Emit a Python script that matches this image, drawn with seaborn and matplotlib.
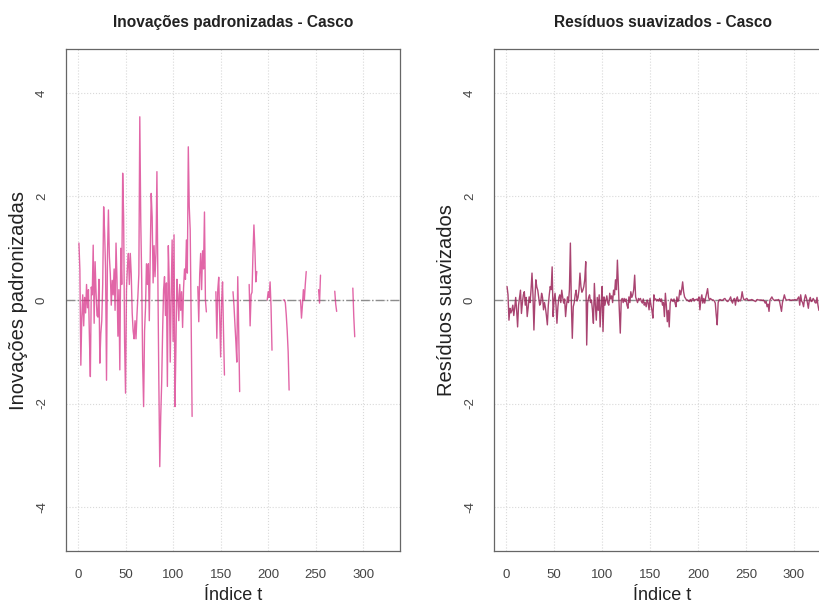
import matplotlib
matplotlib.use("Agg")
import matplotlib.pyplot as plt
import seaborn as sns
import pandas as pd
import numpy as np

nan = np.nan

# standardized innovations (NaN where the series is missing)
innov = [
    1.10, 0.58, -1.26, -0.33, 0.10, -0.50, 0.05, -0.25, 0.30, -0.15,
    0.20, -0.70, -1.48, 0.25, 0.10, 1.06, -0.45, 0.74, 0.15, -0.30,
    -0.33, 0.40, -1.22, -0.65, -0.40, 0.30, 1.80, 1.30, 0.60, -1.55,
    0.85, 1.74, 0.84, 0.50, -0.10, 0.38, 0.10, 0.60, -0.20, 1.10,
    0.40, -0.70, 0.20, -1.35, 1.00, 0.30, 2.45, 1.60, -0.80, -1.80,
    0.20, 0.64, 0.90, 0.30, 0.90, 0.50, -0.25, -0.60, -0.75, -0.40,
    -0.75, -0.30, 0.08, 0.50, 3.54, 1.55, 0.40, -1.20, -2.06, -0.60,
    -0.15, 0.70, 0.30, 0.70, -0.40, 0.90, 2.06, 1.60, 0.33, 1.05,
    0.45, 0.90, 2.48, 0.40, -1.55, -3.22, -2.25, -1.60, -0.60, 0.20,
    0.45, -0.30, 0.33, -1.67, 1.05, 0.30, -1.20, 0.10, 1.16, -0.80,
    1.26, -2.06, -0.90, 0.40, 0.10, -0.40, 0.30, -0.20, 0.16, -0.53,
    0.22, 0.60, 0.40, 1.16, 0.52, 2.96, 1.80, 1.35, -0.40, -2.25,
    nan, nan, nan, nan, nan, 0.26, -0.42, 0.50, 0.90, 0.20,
    0.95, 0.60, 1.70, 0.00, -0.23, nan, nan, nan, nan, nan,
    nan, nan, nan, nan, 0.16, -0.74, 0.20, 0.44, -0.30, -1.10,
    -0.05, 0.35, -0.60, -1.45, nan, nan, nan, nan, nan, nan,
    nan, nan, 0.16, -0.10, -0.46, -0.80, -1.20, 0.45, -0.60, -1.77,
    nan, nan, nan, nan, nan, nan, nan, nan, nan, 0.30,
    -0.50, 0.10, 0.15, 0.90, 1.45, 1.00, 0.35, 0.55, nan, nan,
    nan, nan, nan, nan, nan, nan, nan, nan, 0.00, 0.16,
    0.05, 0.35, -0.13, -0.97, nan, nan, nan, nan, nan, nan,
    nan, nan, nan, nan, nan, 0.00, 0.00, -0.05, -0.29, -0.60,
    -1.00, -1.74, nan, nan, nan, nan, nan, nan, nan, nan,
    nan, nan, nan, 0.00, -0.35, -0.10, 0.20, 0.00, 0.30, 0.55,
    nan, nan, nan, nan, nan, nan, nan, nan, nan, nan,
    nan, nan, 0.20, -0.06, 0.48, nan, nan, nan, nan, nan,
    nan, nan, nan, nan, nan, nan, nan, nan, nan, 0.17,
    -0.08, -0.22, nan, nan, nan, nan, nan, nan, nan, nan,
    nan, nan, nan, nan, nan, nan, nan, nan, 0.23, -0.32,
    -0.71, nan, nan, nan, nan, nan, nan, nan, nan, nan,
    nan, nan, nan, nan, nan, nan, nan, nan, nan, nan,
    nan, nan, nan, nan, nan, nan, nan, nan, nan, nan,
    nan, nan, nan, nan, nan, nan,
]

# smoothed residuals
resid = [
    0.26, 0.10, -0.39, -0.16, -0.25, -0.20, -0.10, -0.30, -0.15, 0.05,
    -0.20, -0.52, -0.10, 0.05, 0.19, -0.26, -0.05, 0.10, 0.16, -0.10,
    0.05, -0.32, -0.15, 0.06, -0.05, 0.20, 0.52, 0.10, -0.58, 0.00,
    0.39, 0.25, 0.19, 0.05, -0.10, -0.06, 0.13, 0.05, -0.19, -0.05,
    -0.15, -0.30, -0.48, -0.10, 0.10, 0.26, 0.20, 0.64, -0.32, 0.00,
    0.13, -0.10, -0.45, -0.13, 0.05, 0.10, -0.05, 0.19, 0.05, -0.06,
    0.02, -0.32, -0.10, 0.06, -0.05, 0.20, 1.10, -0.06, -0.74, -0.13,
    -0.05, 0.10, 0.19, -0.02, 0.05, 0.20, 0.52, 0.26, 0.15, 0.19,
    0.26, 0.40, 0.74, -0.87, -0.06, 0.05, 0.10, -0.05, 0.00, -0.20,
    -0.45, 0.32, -0.10, -0.39, 0.05, -0.20, 0.10, -0.52, -0.10, 0.26,
    -0.61, 0.06, -0.10, 0.00, 0.08, -0.06, -0.10, 0.13, 0.02, 0.08,
    -0.05, 0.19, 0.10, 0.39, 0.20, 0.77, 0.26, -0.20, -0.64, 0.00,
    0.03, -0.05, 0.03, -0.03, 0.02, -0.10, -0.16, 0.06, -0.05, 0.16,
    0.05, 0.10, 0.20, 0.48, 0.06, 0.00, -0.05, 0.03, 0.00, 0.03,
    -0.03, -0.06, 0.02, -0.10, -0.05, -0.13, 0.00, -0.05, -0.19, 0.03,
    -0.10, -0.20, -0.35, 0.10, 0.00, 0.02, -0.02, 0.01, -0.02, 0.03,
    -0.03, 0.02, -0.10, -0.05, -0.32, 0.13, -0.10, -0.42, -0.20, -0.52,
    -0.06, 0.02, 0.00, -0.03, 0.02, -0.05, -0.13, 0.06, -0.03, 0.02,
    0.19, 0.10, 0.20, 0.35, 0.16, 0.06, 0.03, 0.00, 0.00, -0.02,
    -0.03, 0.01, -0.03, 0.02, 0.03, -0.02, 0.01, 0.00, 0.02, -0.01,
    0.06, -0.19, 0.02, 0.10, -0.06, 0.03, -0.06, 0.05, 0.13, 0.22,
    0.05, 0.00, 0.03, 0.01, 0.00, 0.00, -0.02, -0.06, -0.29, -0.48,
    -0.05, 0.00, 0.01, 0.00, -0.01, 0.00, 0.02, 0.03, 0.00, -0.02,
    -0.03, -0.01, 0.02, 0.06, -0.02, -0.06, 0.01, 0.03, -0.10, 0.02,
    0.06, -0.03, 0.00, -0.02, 0.03, 0.16, 0.05, 0.00, 0.01, 0.02,
    0.03, 0.00, -0.01, 0.00, 0.00, 0.01, 0.00, -0.01, -0.02, -0.03,
    0.00, 0.01, 0.00, 0.00, 0.00, 0.00, -0.01, 0.00, -0.02, -0.06,
    -0.03, -0.13, -0.08, -0.22, 0.00, 0.03, 0.06, 0.02, 0.00, -0.01,
    0.00, 0.00, 0.00, 0.01, -0.03, -0.13, -0.22, -0.05, 0.02, 0.10,
    0.03, 0.00, 0.00, 0.00, 0.01, 0.00, -0.01, 0.00, 0.00, 0.00,
    0.01, 0.00, 0.00, 0.03, 0.06, -0.10, 0.10, -0.02, -0.05, -0.13,
    0.02, 0.10, 0.04, -0.05, -0.16, 0.00, 0.05, -0.03, -0.02, 0.03,
    0.00, -0.05, -0.06, 0.05, -0.10, -0.20,
]

t = np.arange(1, len(innov) + 1)
x_ticks = [0, 50, 100, 150, 200, 250, 300]
y_ticks = [-4, -2, 0, 2, 4]

sns.set_style("white")
plt.rcParams["font.family"] = ["Liberation Sans", "DejaVu Sans"]
plt.rcParams["axes.unicode_minus"] = False


def series_frame(values):
    df = pd.DataFrame({"t": t, "v": values})
    # break the line wherever a value is missing
    df["seg"] = df["v"].isna().cumsum()
    return df.dropna()


def style_panel(ax, title, ylabel):
    ax.set_xlim(-12.6, 338.6)
    ax.set_ylim(-4.85, 4.85)
    ax.set_xticks(x_ticks)
    ax.set_yticks(y_ticks)
    for v in x_ticks:
        ax.axvline(v, color="#d9d9d9", lw=0.8, ls=":", zorder=0)
    for v in y_ticks:
        ax.axhline(v, color="#d9d9d9", lw=0.8, ls=":", zorder=0)
    ax.axhline(0, color="#8c8c8c", lw=1.0, ls="-.", zorder=1)
    ax.set_title(title, fontsize=11.2, fontweight="bold", pad=16, color="#222222")
    ax.set_xlabel("Índice t", fontsize=13, labelpad=4, color="#222222")
    ax.set_ylabel(ylabel, fontsize=14.5, labelpad=6, color="#222222")
    ax.tick_params(axis="both", direction="out", length=5, width=0.8,
                   colors="#555555", labelcolor="#444444", labelsize=9.5, pad=8)
    for lab in ax.get_yticklabels():
        lab.set_rotation(90)
        lab.set_va("center")
    for sp in ax.spines.values():
        sp.set_color("#666666")
        sp.set_linewidth(0.9)


fig = plt.figure(figsize=(8.19, 6.07), dpi=100)
ax1 = fig.add_axes([66 / 819, 1 - 551 / 607, 334 / 819, 502 / 607])
ax2 = fig.add_axes([494 / 819, 1 - 551 / 607, 337 / 819, 502 / 607])

sns.lineplot(data=series_frame(innov), x="t", y="v", units="seg", estimator=None,
             color="#d8338a", alpha=0.75, lw=1.0, ax=ax1)
sns.lineplot(data=series_frame(resid), x="t", y="v", units="seg", estimator=None,
             color="#9a2358", alpha=0.85, lw=1.0, ax=ax2)

style_panel(ax1, "Inovações padronizadas - Casco", "Inovações padronizadas")
style_panel(ax2, "Resíduos suavizados - Casco", "Resíduos suavizados")

fig.savefig("out.png", dpi=100)
